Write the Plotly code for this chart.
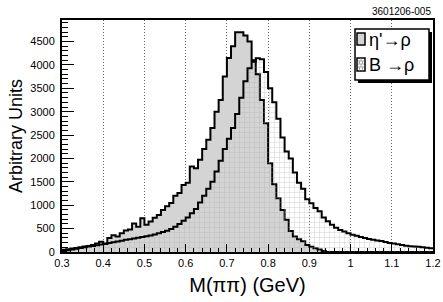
import numpy as np
import plotly.graph_objects as go

# Histogram binning (GeV)
bin_edges = np.round(0.30 + 0.01 * np.arange(91), 3)

# eta' -> rho (gray filled)
eta_vals = [50, 60, 75, 85, 100, 120, 130, 150, 180, 220,
            170, 300, 360, 330, 400, 460, 480, 610, 540, 720,
            580, 650, 730, 790, 900, 980, 1050, 1200, 1260, 1430,
            1480, 1830, 1790, 1970, 2200, 2400, 2650, 3000, 3250, 3750,
            4150, 4400, 4700, 4700, 4630, 4500, 4100, 3800, 3250, 2750,
            1900, 1450, 1150, 900, 690, 450, 330, 270, 230, 150,
            110, 80, 55, 20, 0, 0, 0, 0, 0, 0,
            0, 0, 0, 0, 0, 0, 0, 0, 0, 0,
            0, 0, 0, 0, 0, 0, 0, 0, 0, 0]

# B -> rho (brick pattern)
b_vals = [20, 40, 55, 70, 85, 100, 115, 130, 145, 160,
          180, 195, 210, 225, 240, 260, 275, 290, 305, 320,
          335, 355, 375, 400, 425, 455, 490, 540, 600, 670,
          740, 830, 920, 1060, 1200, 1350, 1500, 1720, 1950, 2200,
          2420, 2650, 2950, 3300, 3650, 3930, 4070, 4140, 4120, 3850,
          3500, 3200, 2850, 2450, 2150, 2000, 1700, 1480, 1350, 1130,
          1040, 940, 870, 740, 660, 580, 520, 470, 440, 400,
          370, 350, 320, 300, 280, 260, 245, 235, 215, 190,
          180, 165, 150, 135, 125, 115, 110, 100, 90, 80]

x_ticks = [0.3, 0.4, 0.5, 0.6, 0.7, 0.8, 0.9, 1.0, 1.1, 1.2]
x_ticktext = ["0.3", "0.4", "0.5", "0.6", "0.7", "0.8", "0.9", "1", "1.1", "1.2"]
y_ticks = [0, 500, 1000, 1500, 2000, 2500, 3000, 3500, 4000, 4500]
legend_labels = ["η'→ρ", "B →ρ"]

FONT = "Liberation Sans, Arial, Helvetica, sans-serif"
ETA_FILL = "#d4d4d4"
PAT_COLOR = "#a8a8a8"

def step(vals):
    return list(bin_edges), list(vals) + [vals[-1]]

fig = go.Figure()

ex, ey = step(eta_vals)
fig.add_trace(go.Scatter(
    x=ex, y=ey, mode="lines", line=dict(shape="hv", color="black", width=2),
    fill="tozeroy", fillcolor=ETA_FILL, name=legend_labels[0], showlegend=False,
))

bx, by = step(b_vals)
fig.add_trace(go.Scatter(
    x=bx, y=by, mode="lines", line=dict(shape="hv", color="black", width=2),
    fill="tozeroy", fillcolor="rgba(0,0,0,0)",
    fillpattern=dict(shape="+", fgcolor=PAT_COLOR, bgcolor="rgba(255,255,255,0)",
                     size=5, solidity=0.2, fillmode="overlay"),
    name=legend_labels[1], showlegend=False,
))

W, H = 443, 302
L, R, T, B = 62, 10, 20, 50
PW, PH = W - L - R, H - T - B

def px(xp):
    return (xp - L) / PW

def py(yp):
    return (H - B - yp) / PH

shapes = []
annotations = []

# Legend box (hand-drawn, ROOT style with shadow)
lx0, lx1, ly0, ly1 = 355, 429, 29, 80
shapes.append(dict(type="rect", xref="paper", yref="paper", layer="above",
                   x0=px(lx0 + 3), x1=px(lx1 + 3), y0=py(ly1 + 3), y1=py(ly0 + 3),
                   fillcolor="black", line=dict(width=0)))
shapes.append(dict(type="rect", xref="paper", yref="paper", layer="above",
                   x0=px(lx0), x1=px(lx1), y0=py(ly1), y1=py(ly0),
                   fillcolor="white", line=dict(color="black", width=1.5)))
# swatches
sw = [(357, 365, 33, 45, ETA_FILL), (357, 365, 58, 71, "white")]
for (a, b, c, d, col) in sw:
    shapes.append(dict(type="rect", xref="paper", yref="paper", layer="above",
                       x0=px(a), x1=px(b), y0=py(d), y1=py(c),
                       fillcolor=col, line=dict(color="black", width=1.5)))
# brick texture inside the B swatch
for yy in (61, 64, 67):
    shapes.append(dict(type="line", xref="paper", yref="paper", layer="above",
                       x0=px(358), x1=px(364), y0=py(yy), y1=py(yy),
                       line=dict(color=PAT_COLOR, width=1)))
for (xx, y0_, y1_) in ((361, 58.5, 61), (359.5, 61, 64), (362.5, 61, 64), (361, 64, 67), (359.5, 67, 70.5), (362.5, 67, 70.5)):
    shapes.append(dict(type="line", xref="paper", yref="paper", layer="above",
                       x0=px(xx), x1=px(xx), y0=py(y1_), y1=py(y0_),
                       line=dict(color=PAT_COLOR, width=1)))

for lab, yc in zip(legend_labels, (39.5, 64.5)):
    annotations.append(dict(text=lab, xref="paper", yref="paper", x=px(367), y=py(yc),
                            xanchor="left", yanchor="middle", showarrow=False,
                            font=dict(size=18, family=FONT, color="black")))

annotations.append(dict(
    text="3601206-005", xref="paper", yref="paper", x=px(433), y=py(12),
    xanchor="right", yanchor="middle", showarrow=False,
    font=dict(size=10, family=FONT, color="black"),
))

fig.update_layout(
    width=W, height=H,
    margin=dict(l=L, r=R, t=T, b=B, pad=0, autoexpand=False),
    paper_bgcolor="white", plot_bgcolor="white",
    font=dict(family=FONT, color="black"),
    showlegend=False,
    xaxis=dict(
        range=[0.3, 1.2], tickvals=x_ticks, ticktext=x_ticktext,
        ticks="inside", ticklen=8, tickcolor="black", tickwidth=1,
        minor=dict(dtick=0.02, ticks="inside", ticklen=4, tickcolor="black", showgrid=False),
        showgrid=True, gridcolor="#666666", griddash="1px,2px", gridwidth=1,
        showline=True, linecolor="black", linewidth=2, mirror=True,
        zeroline=False, tickfont=dict(size=11), automargin=False,
        title=dict(text="M(ππ) (GeV)", font=dict(size=20), standoff=10),
    ),
    yaxis=dict(
        range=[0, 4960], tickvals=y_ticks,
        ticks="inside", ticklen=12, tickcolor="black", tickwidth=1,
        minor=dict(dtick=100, ticks="inside", ticklen=6, tickcolor="black", showgrid=False),
        showgrid=False,
        showline=True, linecolor="black", linewidth=2, mirror=True,
        zeroline=False, tickfont=dict(size=11), automargin=False,
        ticklabelstandoff=3,
        title=dict(text="Arbitrary Units", font=dict(size=18), standoff=3),
    ),
    shapes=shapes,
    annotations=annotations,
)

fig.write_html(
    "out.html",
    config={"displayModeBar": False},
    post_script="document.body.style.margin='0';document.body.style.padding='0';",
)
